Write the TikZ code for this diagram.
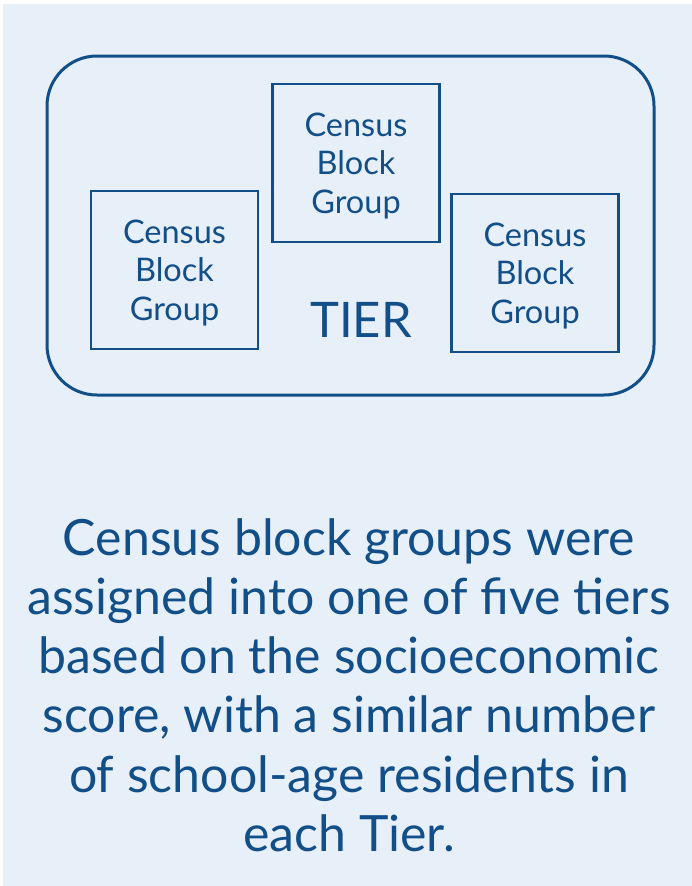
\documentclass[tikz,border=0pt]{standalone}
\usepackage{fontspec}
\setmainfont{Lato}
\definecolor{bg}{HTML}{E7EFF8}
\definecolor{ink}{HTML}{124E87}
\begin{document}
\begin{tikzpicture}[x=1pt,y=-1pt,
  cbg/.style={draw=ink, line width=2.2pt, minimum width=167pt, minimum height=158pt, inner sep=0pt},
  cbgtext/.style={align=center, text=ink, inner sep=0pt, yshift=-3pt, font=\fontsize{32.5}{38.5}\selectfont},
  tier/.style={draw=ink, line width=3pt, rounded corners=50pt}]
\useasboundingbox (0,0) rectangle (692,886);
\fill[white] (0,0) rectangle (692,886);
\fill[bg] (3,4) rectangle (692,886);
\node[tier, minimum width=607pt, minimum height=339pt] (tierbox) at (350.5,225.5) {};
\node[cbg, label={[cbgtext]center:Census\\Block\\Group}] (cbgA) at (174.5,270) {};
\node[cbg, label={[cbgtext]center:Census\\Block\\Group}] (cbgB) at (356,163) {};
\node[cbg, label={[cbgtext]center:Census\\Block\\Group}] (cbgC) at (535,273) {};
\node[text=ink, font=\fontsize{49}{55}\selectfont, inner sep=0pt] (tierlabel) at (361,320) {TIER};
\node[anchor=north, inner sep=0pt, align=center, text=ink, font=\fontsize{50}{59.3}\selectfont] (caption) at (349,518)
  {Census block groups were\\assigned into one of five tiers\\based on the socioeconomic\\score, with a similar number\\of school-age residents in\\each Tier.};
\end{tikzpicture}
\end{document}
